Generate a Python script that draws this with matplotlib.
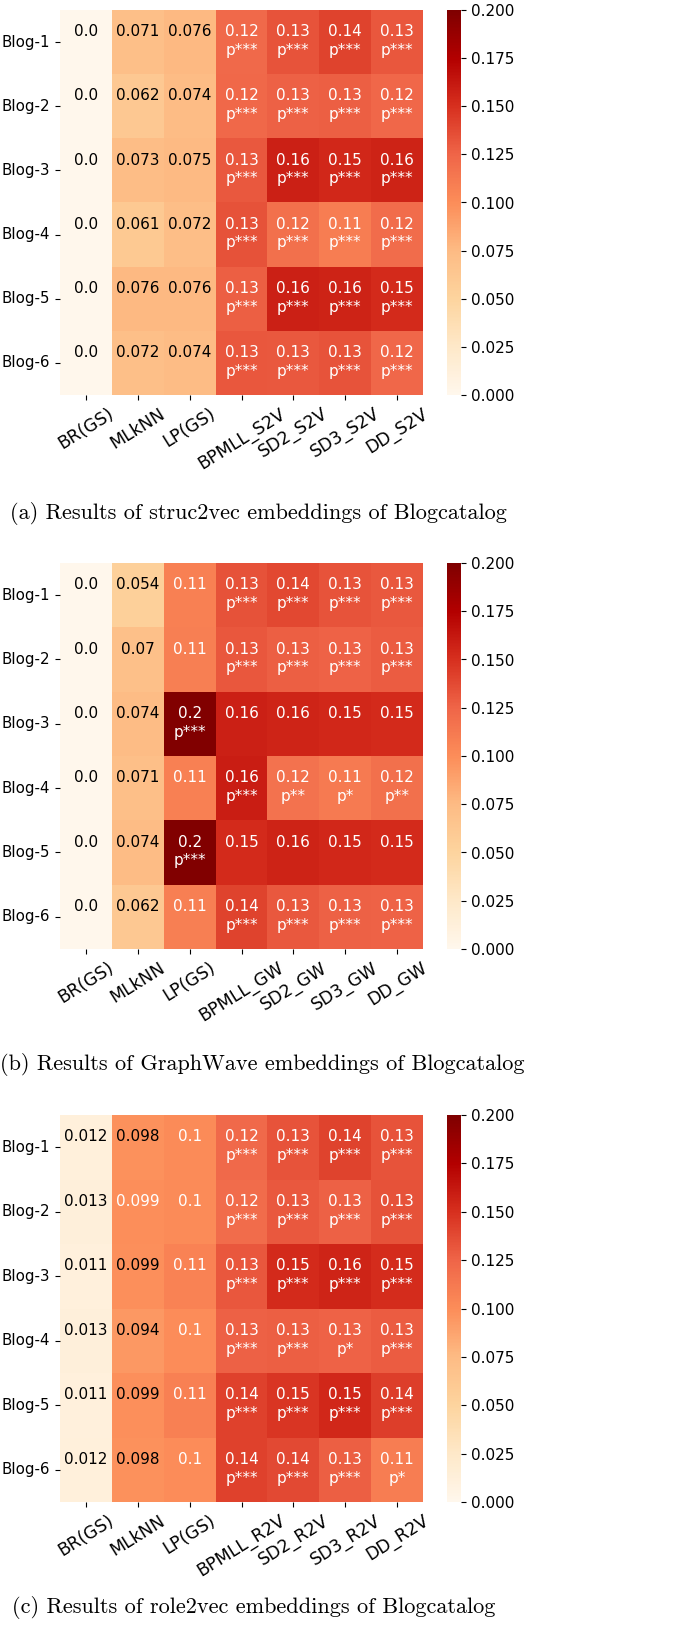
import matplotlib
matplotlib.use("Agg")
import matplotlib.pyplot as plt
import numpy as np
import seaborn as sns

rows = ["Blog-1", "Blog-2", "Blog-3", "Blog-4", "Blog-5", "Blog-6"]
base_cols = ["BR(GS)", "MLkNN", "LP(GS)"]

# struc2vec
vals_a = [
    [0.0, 0.0712, 0.0758, 0.122, 0.133, 0.141, 0.132],
    [0.0, 0.0619, 0.0741, 0.123, 0.127, 0.128, 0.124],
    [0.0, 0.0731, 0.0752, 0.131, 0.158, 0.154, 0.157],
    [0.0, 0.0612, 0.0721, 0.134, 0.118, 0.110, 0.121],
    [0.0, 0.0758, 0.0762, 0.128, 0.158, 0.157, 0.153],
    [0.0, 0.0718, 0.0742, 0.132, 0.131, 0.133, 0.124],
]
sig_a = [
    ["", "", "", "p***", "p***", "p***", "p***"],
    ["", "", "", "p***", "p***", "p***", "p***"],
    ["", "", "", "p***", "p***", "p***", "p***"],
    ["", "", "", "p***", "p***", "p***", "p***"],
    ["", "", "", "p***", "p***", "p***", "p***"],
    ["", "", "", "p***", "p***", "p***", "p***"],
]

# GraphWave
vals_b = [
    [0.0, 0.0541, 0.108, 0.134, 0.139, 0.133, 0.131],
    [0.0, 0.0702, 0.109, 0.132, 0.128, 0.126, 0.129],
    [0.0, 0.0741, 0.199, 0.158, 0.156, 0.154, 0.153],
    [0.0, 0.0712, 0.108, 0.160, 0.117, 0.112, 0.118],
    [0.0, 0.0742, 0.199, 0.153, 0.157, 0.154, 0.153],
    [0.0, 0.0619, 0.109, 0.141, 0.131, 0.127, 0.126],
]
sig_b = [
    ["", "", "", "p***", "p***", "p***", "p***"],
    ["", "", "", "p***", "p***", "p***", "p***"],
    ["", "", "p***", "", "", "", ""],
    ["", "", "", "p***", "p**", "p*", "p**"],
    ["", "", "p***", "", "", "", ""],
    ["", "", "", "p***", "p***", "p***", "p***"],
]

# role2vec
vals_c = [
    [0.0121, 0.0981, 0.1012, 0.122, 0.133, 0.141, 0.133],
    [0.0131, 0.0993, 0.1008, 0.121, 0.131, 0.127, 0.134],
    [0.0112, 0.0986, 0.107, 0.132, 0.153, 0.156, 0.152],
    [0.0128, 0.0942, 0.1005, 0.127, 0.128, 0.126, 0.129],
    [0.0114, 0.0987, 0.108, 0.142, 0.147, 0.154, 0.143],
    [0.0119, 0.0979, 0.1003, 0.142, 0.138, 0.128, 0.110],
]
sig_c = [
    ["", "", "", "p***", "p***", "p***", "p***"],
    ["", "", "", "p***", "p***", "p***", "p***"],
    ["", "", "", "p***", "p***", "p***", "p***"],
    ["", "", "", "p***", "p***", "p*", "p***"],
    ["", "", "", "p***", "p***", "p***", "p***"],
    ["", "", "", "p***", "p***", "p***", "p*"],
]

captions = [
    "(a) Results of struc2vec embeddings of Blogcatalog",
    "(b) Results of GraphWave embeddings of Blogcatalog",
    "(c) Results of role2vec embeddings of Blogcatalog",
]
suffixes = ["S2V", "GW", "R2V"]

W, H = 685, 1626
fig = plt.figure(figsize=(W / 100, H / 100), dpi=100)

def fx(px):
    return px / W

def fy(px):
    return 1 - px / H

# (values, significance, heatmap top px, heatmap bottom px, caption y px, caption x px)
panels = [(vals_a, sig_a, 10, 395, 513, 258),
          (vals_b, sig_b, 563, 949, 1065, 262),
          (vals_c, sig_c, 1115, 1502, 1607, 254)]

for k, (vals, sig, top, bot, cap_y, cap_x) in enumerate(panels):
    data = np.array(vals)
    cols = base_cols + [m + "_" + suffixes[k] for m in ["BPMLL", "SD2", "SD3", "DD"]]
    ax = fig.add_axes([fx(60), fy(bot), fx(363), (bot - top) / H])
    cax = fig.add_axes([fx(447), fy(bot), fx(14), (bot - top) / H])
    sns.heatmap(data, ax=ax, cbar_ax=cax, cmap="OrRd", vmin=0, vmax=0.2,
                xticklabels=cols, yticklabels=rows)
    cax.yaxis.set_major_locator(matplotlib.ticker.MultipleLocator(0.025))
    cax.yaxis.set_major_formatter(matplotlib.ticker.FormatStrFormatter("%.3f"))
    cax.tick_params(labelsize=11)
    ax.tick_params(axis="y", labelsize=10.8, rotation=0)
    ax.tick_params(axis="x", labelsize=12.5)
    for lab in ax.get_xticklabels():
        lab.set_rotation(32)
        lab.set_ha("center")
    for i in range(data.shape[0]):
        for j in range(data.shape[1]):
            v = data[i, j]
            txt = "0.0" if v == 0 else "{:.2g}".format(v)
            c = "white" if v >= 0.099 else "black"
            ax.text(j + 0.5, i + 0.5 - 0.16, txt, ha="center", va="center",
                    color=c, fontsize=11)
            if sig[i][j]:
                ax.text(j + 0.5, i + 0.5 + 0.13, sig[i][j], ha="center",
                        va="center", color=c, fontsize=11)
    fig.text(fx(cap_x), fy(cap_y), captions[k], ha="center", va="center",
             fontsize=16, family="cmr10")

fig.savefig("out.png", dpi=100)
